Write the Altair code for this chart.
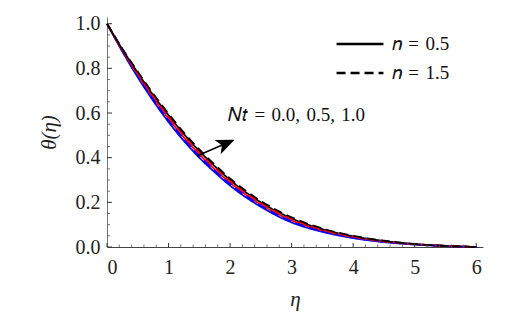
import altair as alt
import pandas as pd

eta = [0, 0.25, 0.5, 0.75, 1, 1.25, 1.5, 1.75, 2, 2.5, 3, 3.5, 4, 4.5, 5, 5.5, 6]

blue_solid = [1.0, 0.875, 0.760, 0.655, 0.560, 0.475, 0.400, 0.335, 0.275, 0.180, 0.110, 0.068, 0.040, 0.022, 0.011, 0.0040, 0.0]
red_solid = [1.0, 0.880, 0.770, 0.668, 0.575, 0.490, 0.415, 0.348, 0.288, 0.190, 0.119, 0.074, 0.044, 0.0245, 0.012, 0.0045, 0.0]
black_solid = [1.0, 0.885, 0.780, 0.680, 0.590, 0.505, 0.430, 0.362, 0.300, 0.200, 0.128, 0.080, 0.048, 0.027, 0.013, 0.0050, 0.0]
blue_dash = [1.0, 0.878, 0.765, 0.662, 0.567, 0.482, 0.407, 0.342, 0.282, 0.186, 0.115, 0.071, 0.042, 0.023, 0.0115, 0.0042, 0.0]
red_dash = [1.0, 0.883, 0.775, 0.675, 0.582, 0.497, 0.422, 0.355, 0.295, 0.196, 0.124, 0.077, 0.046, 0.0255, 0.0125, 0.0047, 0.0]
black_dash = [1.0, 0.888, 0.785, 0.687, 0.597, 0.512, 0.437, 0.369, 0.307, 0.206, 0.133, 0.083, 0.050, 0.028, 0.0135, 0.0052, 0.0]

nt_levels = ["0.0", "0.5", "1.0"]
nt_colors = ["#0000ff", "#ff0000", "#000000"]
SP = "\u2004"
n_labels = ["𝑛" + SP + "=" + SP + "0.5", "𝑛" + SP + "=" + SP + "1.5"]

x_major = [0, 1, 2, 3, 4, 5, 6]
x_minor = [round(0.2 * i, 1) for i in range(31) if (2 * i) % 10 != 0]
y_major = [0.0, 0.2, 0.4, 0.6, 0.8, 1.0]
y_minor = [round(0.05 * i, 2) for i in range(21) if i % 4 != 0]

annot_text = ["𝑁𝑡" + SP + "=" + SP + "0.0,\u20040.5,\u20041.0"]
annot_eta = [1.97]
annot_theta = [0.59]
arrow_tail = (1.46, 0.408)
arrow_head = (1.92, 0.462)

rows = []
series = [
    ("0.0", n_labels[0], blue_solid), ("0.5", n_labels[0], red_solid), ("1.0", n_labels[0], black_solid),
    ("0.0", n_labels[1], blue_dash), ("0.5", n_labels[1], red_dash), ("1.0", n_labels[1], black_dash),
]
for k, (nt, n, vals) in enumerate(series):
    for i, (e, v) in enumerate(zip(eta, vals)):
        rows.append({"eta": e, "theta": v, "Nt": nt, "n": n, "order": k})
df = pd.DataFrame(rows)

W, H = 376, 230
xs = alt.Scale(domain=[0, 6.11], nice=False, zero=False)
ys = alt.Scale(domain=[0, 1.03], nice=False, zero=False)
FONT = "Liberation Serif"

lines = alt.Chart(df).mark_line(strokeWidth=1.8, interpolate="monotone").encode(
    x=alt.X("eta:Q", scale=xs, axis=alt.Axis(
        values=x_major, format="d", ticks=False, grid=False, labelPadding=10,
        labelFont=FONT, labelFontSize=20, labelColor="#222",
        domainColor="#444", domainWidth=1,
        title="η", titleFont=FONT, titleFontStyle="italic", titleFontWeight="normal",
        titleFontSize=21, titlePadding=11, titleColor="#222")),
    y=alt.Y("theta:Q", scale=ys, axis=alt.Axis(
        values=y_major, format=".1f", ticks=False, grid=False, labelPadding=7,
        labelFont=FONT, labelFontSize=20, labelColor="#222",
        domainColor="#777", domainWidth=1,
        title="θ(η)", titleFont=FONT, titleFontStyle="italic", titleFontWeight="normal",
        titleFontSize=21, titlePadding=16, titleColor="#222")),
    color=alt.Color("Nt:N", scale=alt.Scale(domain=nt_levels, range=nt_colors), legend=None),
    strokeDash=alt.StrokeDash("n:N", scale=alt.Scale(domain=n_labels, range=[[1, 0], [9, 5]]),
        legend=alt.Legend(title=None, orient="none", legendX=228, legendY=18,
            symbolType="stroke", symbolSize=2200, symbolStrokeWidth=2.6,
            symbolStrokeColor="black", labelFont=FONT, labelFontSize=19,
            labelColor="#111", labelOffset=7, clipHeight=18, rowPadding=10, padding=0)),
    order="order:Q",
)

xmaj = alt.Chart(pd.DataFrame({"v": x_major})).mark_rule(color="#333", strokeWidth=1).encode(
    x=alt.X("v:Q", scale=xs), y=alt.value(H), y2=alt.value(H - 4))
xmin = alt.Chart(pd.DataFrame({"v": x_minor})).mark_rule(color="#555", strokeWidth=0.8).encode(
    x=alt.X("v:Q", scale=xs), y=alt.value(H), y2=alt.value(H - 2.5))
ymaj = alt.Chart(pd.DataFrame({"v": y_major})).mark_rule(color="#333", strokeWidth=1).encode(
    y=alt.Y("v:Q", scale=ys), x=alt.value(0), x2=alt.value(5))
ymin = alt.Chart(pd.DataFrame({"v": y_minor})).mark_rule(color="#555", strokeWidth=0.8).encode(
    y=alt.Y("v:Q", scale=ys), x=alt.value(0), x2=alt.value(3))

annot = alt.Chart(pd.DataFrame({"t": annot_text, "x": annot_eta, "y": annot_theta})).mark_text(
    align="left", baseline="middle", font=FONT, fontSize=19, color="#111").encode(
    x=alt.X("x:Q", scale=xs), y=alt.Y("y:Q", scale=ys), text="t:N")

shaft = alt.Chart(pd.DataFrame({"x": [arrow_tail[0]], "y": [arrow_tail[1]],
                                "x2": [arrow_head[0]], "y2": [arrow_head[1]]})).mark_rule(
    color="black", strokeWidth=1.6).encode(
    x=alt.X("x:Q", scale=xs), y=alt.Y("y:Q", scale=ys), x2="x2:Q", y2="y2:Q")

head = alt.Chart(pd.DataFrame({"x": [arrow_head[0]], "y": [arrow_head[1]]})).mark_point(
    shape="M0,-1 L0.75,0.8 L0,0.35 L-0.75,0.8 Z", size=420, angle=66.6,
    filled=True, color="black", opacity=1).encode(
    x=alt.X("x:Q", scale=xs), y=alt.Y("y:Q", scale=ys))

chart = alt.layer(lines, xmin, xmaj, ymin, ymaj, shaft, head, annot).properties(
    width=W, height=H,
    autosize=alt.AutoSizeParams(type="none"),
    padding={"left": 107, "top": 17, "right": 30, "bottom": 68},
    background="white",
).configure_view(stroke=None)

chart.save("out.html", embed_options={"renderer": "svg", "actions": False})
